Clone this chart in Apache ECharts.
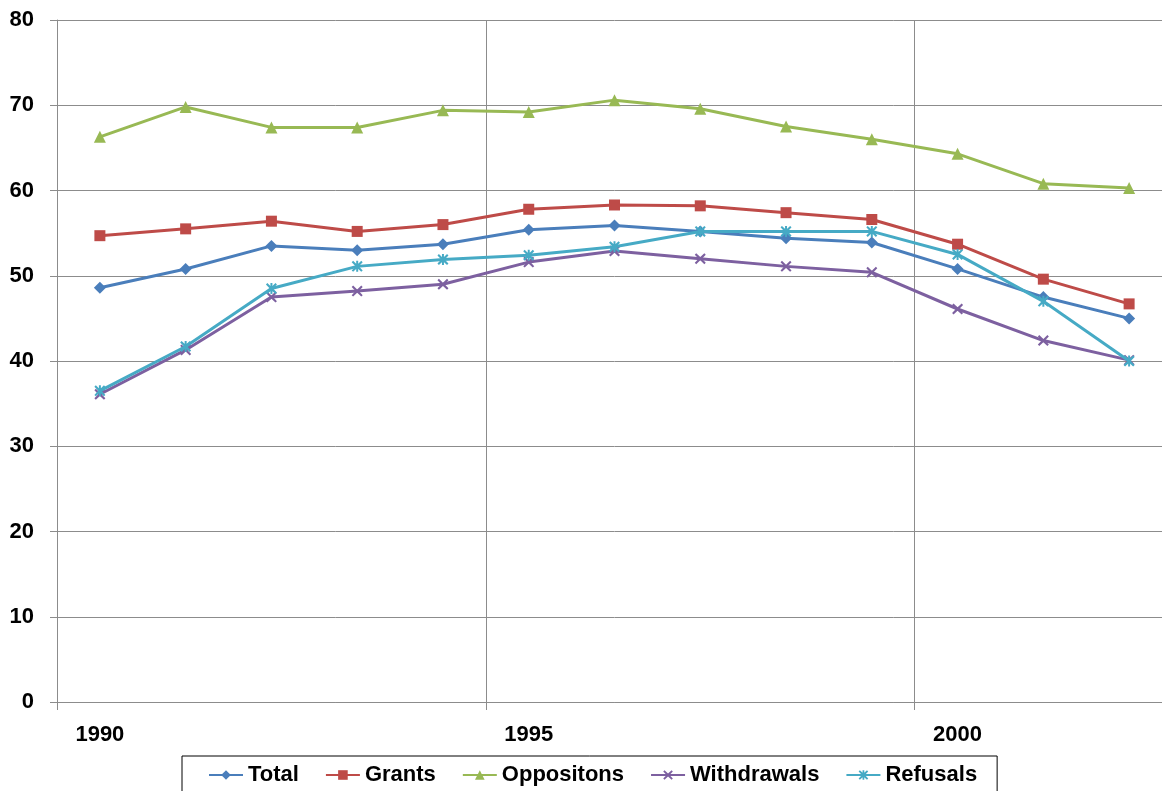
<!DOCTYPE html>
<html>
<head>
<meta charset="utf-8">
<script src="https://cdn.jsdelivr.net/npm/echarts@6/dist/echarts.min.js"></script>
<style>
  html, body { margin: 0; padding: 0; background: #fff; overflow: hidden; width: 1162px; height: 791px; }
  #chart { width: 1172px; height: 791px; }
</style>
</head>
<body>
<div id="chart"></div>
<script>
const years = ['1990','1991','1992','1993','1994','1995','1996','1997','1998','1999','2000','2001','2002'];
const total       = [48.6, 50.8, 53.5, 53.0, 53.7, 55.4, 55.9, 55.2, 54.4, 53.9, 50.8, 47.5, 45.0];
const grants      = [54.7, 55.5, 56.4, 55.2, 56.0, 57.8, 58.3, 58.2, 57.4, 56.6, 53.7, 49.6, 46.7];
const oppositions = [66.3, 69.8, 67.4, 67.4, 69.4, 69.2, 70.6, 69.6, 67.5, 66.0, 64.3, 60.8, 60.3];
const withdrawals = [36.1, 41.3, 47.5, 48.2, 49.0, 51.6, 52.9, 52.0, 51.1, 50.4, 46.1, 42.4, 40.1];
const refusals    = [36.5, 41.7, 48.5, 51.1, 51.9, 52.4, 53.4, 55.2, 55.2, 55.2, 52.5, 47.0, 40.0];
const seriesNames = ['Total', 'Grants', 'Oppositons', 'Withdrawals', 'Refusals'];
const yTicks = { min: 0, max: 80, step: 10 };

const colors = ['#4A7EBB', '#BE4B48', '#98B954', '#7D60A0', '#46AAC5'];
const xPath = 'path://M1.3,0L5,3.5L8.7,0L10,1.3L6.5,5L10,8.7L8.7,10L5,6.5L1.3,10L0,8.7L3.5,5L0,1.3Z';
const starPath = 'path://M1.3,0L5,3.5L8.7,0L10,1.3L6.5,5L10,8.7L8.7,10L5,6.5L1.3,10L0,8.7L3.5,5L0,1.3ZM4.1,0L5.9,0L5.9,10L4.1,10Z';
const symbols = ['diamond', 'rect', 'triangle', xPath, starPath];
const sizes = [12, 11, 12, 11, 11];
const dataSets = [total, grants, oppositions, withdrawals, refusals];

const font = '"Liberation Sans", Arial, sans-serif';
const gridColor = '#8C8C8C';

const chart = echarts.init(document.getElementById('chart'), null, { renderer: 'canvas', width: 1172, height: 791 });
chart.setOption({
  animation: false,
  backgroundColor: '#fff',
  color: colors,
  grid: { left: 57, top: 20, height: 682, width: 1115, containLabel: false },
  legend: {
    data: seriesNames,
    left: 182,
    top: 756,
    itemWidth: 34,
    itemHeight: 12,
    itemGap: 26,
    padding: [8, 20, 30, 26],
    borderColor: '#000',
    borderWidth: 1,
    textStyle: { fontFamily: font, fontSize: 22, fontWeight: 'bold', color: '#000' }
  },
  xAxis: {
    type: 'category',
    data: years,
    boundaryGap: true,
    axisLine: { show: true, lineStyle: { color: gridColor, width: 1 } },
    axisTick: { show: true, interval: 4, length: 8, lineStyle: { color: gridColor } },
    axisLabel: { interval: 4, margin: 22, fontFamily: font, fontSize: 22, fontWeight: 'bold', color: '#000' },
    splitLine: { show: true, interval: 4, lineStyle: { color: gridColor, width: 1 } }
  },
  yAxis: {
    type: 'value',
    min: yTicks.min,
    max: yTicks.max,
    interval: yTicks.step,
    axisLine: { show: true, lineStyle: { color: gridColor, width: 1 } },
    axisTick: { show: true, length: 7, lineStyle: { color: gridColor } },
    axisLabel: { margin: 23, fontFamily: font, fontSize: 22, fontWeight: 'bold', color: '#000' },
    splitLine: { show: true, lineStyle: { color: gridColor, width: 1 } }
  },
  series: seriesNames.map((name, i) => ({
    name: name,
    type: 'line',
    data: dataSets[i],
    symbol: symbols[i],
    symbolSize: sizes[i],
    showSymbol: true,
    lineStyle: { width: 3, color: colors[i] },
    itemStyle: { color: colors[i] },
    z: 2 + i
  }))
});
</script>
</body>
</html>
